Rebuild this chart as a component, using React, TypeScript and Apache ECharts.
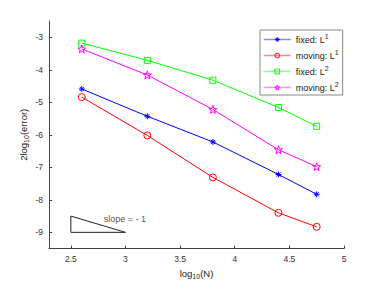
import React, { useEffect, useRef } from "react";
import * as echarts from "echarts";

const logN = [2.6, 3.2, 3.8, 4.4, 4.75];
const fixedL1 = [-4.59, -5.43, -6.22, -7.22, -7.83];
const movingL1 = [-4.84, -6.02, -7.31, -8.4, -8.83];
const fixedL2 = [-3.18, -3.71, -4.32, -5.16, -5.74];
const movingL2 = [-3.36, -4.16, -5.22, -6.46, -6.98];
const xTicks = [2.5, 3, 3.5, 4, 4.5, 5];
const yTicks = [-9, -8, -7, -6, -5, -4, -3];
const slopeTriangle = [[2.5, -8.5], [2.5, -9], [3, -9], [2.5, -8.5]];
const slopeLabelPos = [2.8, -8.59];

const ASTERISK = "path://M5,0L5,10M0,5L10,5M1.5,1.5L8.5,8.5M1.5,8.5L8.5,1.5";
const STAR =
  "path://M5,0L6.18,3.38L9.76,3.45L6.9,5.62L7.94,9.05L5,7L2.06,9.05L3.1,5.62L0.24,3.45L3.82,3.38Z";
const CIRCLE = "path://M10,5A5,5,0,1,1,0,5A5,5,0,1,1,10,5Z";
const SQUARE = "path://M0,0L10,0L10,10L0,10Z";

const FONT = "Liberation Sans, Arial, sans-serif";

export default function App() {
  const ref = useRef<HTMLDivElement>(null);
  useEffect(() => {
    const chart = echarts.init(ref.current!, null, { renderer: "svg" });
    const mk = (name: string, ys: number[], color: string, symbol: string, size: number) => ({
      name,
      type: "line",
      data: logN.map((x, i) => [x, ys[i]]),
      symbol,
      symbolSize: size,
      showAllSymbol: true,
      lineStyle: { color, width: 1 },
      itemStyle: { color: "rgba(0,0,0,0)", borderColor: color, borderWidth: 1 },
      emphasis: { disabled: true },
    });
    const sup = { fontSize: 7, fontFamily: FONT, color: "#222", padding: [0, 0, 6, 0] };
    const sub = { fontSize: 7, fontFamily: FONT, color: "#222", padding: [6, 0, 0, 0] };
    const base = { fontSize: 9.5, fontFamily: FONT, color: "#222" };
    const lbase = { fontSize: 9, fontFamily: FONT, color: "#222" };
    chart.setOption({
      animation: false,
      backgroundColor: "#fff",
      grid: { left: 49, right: 36, top: 21, bottom: 34 },
      xAxis: {
        type: "value",
        min: 2.3,
        max: 5,
        name: "{a|log}{s|10}{a|(N)}",
        nameLocation: "middle",
        nameGap: 17,
        nameTextStyle: { rich: { a: base, s: sub } },
        axisLine: { lineStyle: { color: "#444", width: 1 } },
        axisTick: { inside: true, length: 3, customValues: xTicks, lineStyle: { color: "#444" } },
        axisLabel: { customValues: xTicks, fontSize: 8.5, fontFamily: FONT, color: "#333", margin: 6 },
        splitLine: { show: false },
      },
      yAxis: {
        type: "value",
        min: -9.5,
        max: -2.5,
        name: "{a|2log}{s|10}{a|(error)}",
        nameLocation: "middle",
        nameRotate: 90,
        nameGap: 19,
        nameMoveOverlap: false,
        nameTextStyle: { rich: { a: base, s: sub } },
        axisLine: { show: true, lineStyle: { color: "#444", width: 1 } },
        axisTick: { show: true, inside: true, length: 3, customValues: yTicks, lineStyle: { color: "#444" } },
        axisLabel: { customValues: yTicks, fontSize: 8.5, fontFamily: FONT, color: "#333", margin: 6 },
        splitLine: { show: false },
      },
      legend: {
        orient: "vertical",
        left: 260,
        top: 30,
        padding: [3, 4, 3, 3],
        itemGap: 5,
        itemWidth: 27,
        itemHeight: 6,
        borderColor: "#888",
        borderWidth: 1,
        backgroundColor: "#fff",
        lineStyle: { width: 1.5, opacity: 0.45 },
        itemStyle: { color: "rgba(0,0,0,0)", borderWidth: 1 },
        data: [
          { name: "fixed: L1", itemStyle: { borderColor: "#0000ff" } },
          { name: "moving: L1", itemStyle: { borderColor: "#ff0000" } },
          { name: "fixed: L2", itemStyle: { borderColor: "#00ff00" } },
          { name: "moving: L2", itemStyle: { borderColor: "#ff00ff" } },
        ],
        formatter: (n: string) => `{a|${n.slice(0, -1)}}{s|${n.slice(-1)}}`,
        textStyle: { rich: { a: lbase, s: sup } },
      },
      series: [
        mk("fixed: L1", fixedL1, "#0000ff", ASTERISK, 6),
        mk("moving: L1", movingL1, "#ff0000", CIRCLE, 7),
        mk("fixed: L2", fixedL2, "#00ff00", SQUARE, 6),
        mk("moving: L2", movingL2, "#ff00ff", STAR, 8),
        {
          name: "triangle",
          type: "line",
          data: slopeTriangle,
          symbol: "none",
          lineStyle: { color: "#222", width: 1 },
          silent: true,
        },
        {
          name: "slopeLabel",
          type: "scatter",
          data: [slopeLabelPos],
          symbolSize: 0,
          silent: true,
          label: {
            show: true,
            position: "right",
            distance: 0,
            formatter: "slope = - 1",
            fontSize: 9,
            fontFamily: FONT,
            color: "#222",
          },
        },
      ],
    });
    return () => chart.dispose();
  }, []);
  return <div ref={ref} style={{ width: 380, height: 285, position: "absolute", left: 0, top: 0 }} />;
}
